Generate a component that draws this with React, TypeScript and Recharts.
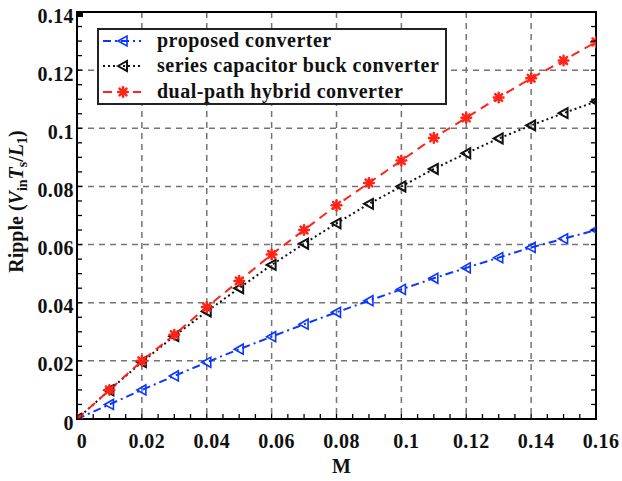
import React from 'react';
import {
  LineChart,
  Line,
  XAxis,
  YAxis,
  CartesianGrid,
  ReferenceArea,
  Legend,
} from 'recharts';

// Conversion ratio M (x axis)
const mValues = [0, 0.01, 0.02, 0.03, 0.04, 0.05, 0.06, 0.07, 0.08, 0.09, 0.1, 0.11, 0.12, 0.13, 0.14, 0.15, 0.16];

// Normalised inductor current ripple (Vin*Ts/L1)
const proposedRipple = [0, 0.005, 0.0100, 0.0148, 0.0195, 0.0240, 0.0283, 0.0326, 0.0367, 0.0407, 0.0446, 0.0484, 0.0520, 0.0555, 0.0590, 0.0620, 0.0650];
const seriesCapRipple = [0, 0.0099, 0.0196, 0.0285, 0.0370, 0.0450, 0.0530, 0.0603, 0.0673, 0.0740, 0.0800, 0.0860, 0.0914, 0.0965, 0.1010, 0.1052, 0.1092];
const dualPathRipple = [0, 0.0100, 0.0200, 0.0290, 0.0385, 0.0475, 0.0566, 0.0650, 0.0735, 0.0812, 0.0889, 0.0967, 0.1036, 0.1106, 0.1172, 0.1233, 0.1297];

const seriesKeys = ['proposed', 'seriesCap', 'dualPath'];
const seriesNames = ['proposed converter', 'series capacitor buck converter', 'dual-path hybrid converter'];

const xTickLabels = ['0', '0.02', '0.04', '0.06', '0.08', '0.1', '0.12', '0.14', '0.16'];
const yTickLabels = ['0', '0.02', '0.04', '0.06', '0.08', '0.1', '0.12', '0.14'];

const data = mValues.map((m, i) => ({
  m,
  proposed: proposedRipple[i],
  seriesCap: seriesCapRipple[i],
  dualPath: dualPathRipple[i],
}));

const xMajor = xTickLabels.map(Number);
const yMajor = yTickLabels.map(Number);

// four minor intervals between each pair of labelled ticks
const subdivide = (major: number[]) => {
  const out: number[] = [];
  for (let i = 0; i < major.length - 1; i++) {
    const a = major[i];
    const b = major[i + 1];
    for (let k = 0; k < 4; k++) out.push(+(a + ((b - a) * k) / 4).toFixed(5));
  }
  out.push(major[major.length - 1]);
  return out;
};
const xTicks = subdivide(xMajor);
const yTicks = subdivide(yMajor);

const FONT = '"Liberation Serif", "Times New Roman", Times, serif';
const BLUE = '#0a36ff';
const RED = '#ff2418';
const BLACK = '#111111';
const TICK_LEN = 5;

const labelFor = (v: number, majors: number[], labels: string[]) => {
  const i = majors.findIndex((m) => Math.abs(m - v) < 1e-9);
  return i >= 0 ? labels[i] : null;
};

const BottomTick = (props: any) => {
  const { x, y, payload } = props;
  const lab = labelFor(payload.value, xMajor, xTickLabels);
  return (
    <g>
      <line x1={x} y1={y} x2={x} y2={y - TICK_LEN} stroke="#000" strokeWidth={1.3} />
      {lab !== null && (
        <text x={x + 5} y={y + 29} textAnchor="middle" fontFamily={FONT} fontWeight="bold" fontSize={20} letterSpacing={0.4} fill="#111">
          {lab}
        </text>
      )}
    </g>
  );
};

const TopTick = (props: any) => {
  const { x, y } = props;
  return <line x1={x} y1={y} x2={x} y2={y + TICK_LEN} stroke="#000" strokeWidth={1.3} />;
};

const LeftTick = (props: any) => {
  const { x, y, payload } = props;
  const lab = labelFor(payload.value, yMajor, yTickLabels);
  return (
    <g>
      <line x1={x} y1={y} x2={x + TICK_LEN} y2={y} stroke="#000" strokeWidth={1.3} />
      {lab !== null && (
        <text x={x - 3} y={y + 10.5} textAnchor="end" fontFamily={FONT} fontWeight="bold" fontSize={20} letterSpacing={0.4} fill="#111">
          {lab}
        </text>
      )}
    </g>
  );
};

const RightTick = (props: any) => {
  const { x, y } = props;
  return <line x1={x} y1={y} x2={x - TICK_LEN} y2={y} stroke="#000" strokeWidth={1.3} />;
};

// open left-pointing triangle marker
const TriangleLeft = ({ cx, cy, color, w }: { cx: number; cy: number; color: string; w: number }) => (
  <polygon
    points={`${cx - 5},${cy} ${cx + 4},${cy - 5} ${cx + 4},${cy + 5}`}
    fill="none"
    stroke={color}
    strokeWidth={w}
  />
);

// asterisk marker
const Asterisk = ({ cx, cy, color }: { cx: number; cy: number; color: string }) => {
  const r = 4.8;
  const d = r * 0.72;
  return (
    <g stroke={color} strokeWidth={2.5} strokeLinecap="round">
      <line x1={cx - r} y1={cy} x2={cx + r} y2={cy} />
      <line x1={cx} y1={cy - r} x2={cx} y2={cy + r} />
      <line x1={cx - d} y1={cy - d} x2={cx + d} y2={cy + d} />
      <line x1={cx - d} y1={cy + d} x2={cx + d} y2={cy - d} />
      <circle cx={cx} cy={cy} r={2.4} fill={color} stroke="none" />
    </g>
  );
};

const seriesStyle: Record<string, { color: string; dash: string; marker: 'tri' | 'star'; mw: number }> = {
  proposed: { color: BLUE, dash: '8 4 2 4', marker: 'tri', mw: 1.6 },
  seriesCap: { color: BLACK, dash: '2 3', marker: 'tri', mw: 2 },
  dualPath: { color: RED, dash: '9 6', marker: 'star', mw: 2 },
};

const Marker = ({ dataKey, cx, cy }: { dataKey: string; cx: number; cy: number }) => {
  const st = seriesStyle[dataKey];
  return st.marker === 'tri' ? (
    <TriangleLeft cx={cx} cy={cy} color={st.color} w={st.mw} />
  ) : (
    <Asterisk cx={cx} cy={cy} color={st.color} />
  );
};

const makeDot = (key: string) => (props: any) => {
  const { cx, cy, index } = props;
  if (cx == null || cy == null) return <g key={`${key}-${index}`} />;
  return (
    <g key={`${key}-${index}`}>
      <Marker dataKey={key} cx={cx} cy={cy} />
    </g>
  );
};

const YLabel = (props: any) => {
  const vb = props.viewBox || { x: 0, y: 12, width: 77, height: 407 };
  const cx = vb.x + 23;
  const cy = vb.y + vb.height / 2 - 14;
  return (
    <text
      transform={`translate(${cx},${cy}) rotate(-90)`}
      textAnchor="middle"
      fontFamily={FONT}
      fontWeight="bold"
      fontSize={20}
      fill="#111"
    >
      <tspan>Ripple (</tspan>
      <tspan fontStyle="italic">V</tspan>
      <tspan fontSize={14} dy={4}>in</tspan>
      <tspan fontStyle="italic" dy={-4}>T</tspan>
      <tspan fontSize={14} dy={4}>s</tspan>
      <tspan dy={-4}>/</tspan>
      <tspan fontStyle="italic">L</tspan>
      <tspan fontSize={14} dy={4}>1</tspan>
      <tspan dy={-4}>)</tspan>
    </text>
  );
};

const XLabel = (props: any) => {
  const vb = props.viewBox || { x: 77, y: 419, width: 519, height: 62 };
  return (
    <text x={vb.x + vb.width / 2 + 5} y={vb.y + 54} textAnchor="middle" fontFamily={FONT} fontWeight="bold" fontSize={20} fill="#111">
      M
    </text>
  );
};

const LegendSample = ({ dataKey }: { dataKey: string }) => {
  const st = seriesStyle[dataKey];
  return (
    <svg width={42} height={20} style={{ position: 'absolute', left: 2, top: -10 }}>
      <line x1={2} y1={10} x2={40} y2={10} stroke={st.color} strokeWidth={2} strokeDasharray={st.dash} />
      <Marker dataKey={dataKey} cx={22} cy={10} />
    </svg>
  );
};

const LegendBox = (props: any) => {
  const payload = props.payload || [];
  const nameOf = (key: string, i: number) => {
    const hit = payload.find((p: any) => p.dataKey === key);
    return hit ? hit.value : seriesNames[i];
  };
  return (
    <div
      style={{
        position: 'relative',
        width: 350,
        height: 77,
        boxSizing: 'border-box',
        border: '2px solid #222',
        background: '#fff',
      }}
    >
      {seriesKeys.map((key, i) => (
        <div key={key} style={{ position: 'absolute', left: 0, top: 11 + i * 25.3, width: '100%' }}>
          <LegendSample dataKey={key} />
          <span
            style={{
              position: 'absolute',
              left: 58,
              top: -12,
              fontFamily: FONT,
              fontWeight: 'bold',
              fontSize: 20,
              letterSpacing: '0.5px',
              lineHeight: '23px',
              whiteSpace: 'nowrap',
              color: '#111',
            }}
          >
            {nameOf(key, i)}
          </span>
        </div>
      ))}
    </div>
  );
};

export default function App() {
  return (
    <div style={{ position: 'absolute', left: 0, top: 0, width: 622, height: 481, background: '#fff' }}>
      <LineChart width={622} height={481} data={data} margin={{ top: 12, right: 26, left: 0, bottom: 0 }}>
        <CartesianGrid
          horizontalValues={yMajor}
          verticalValues={xMajor}
          stroke="#747474"
          strokeWidth={1.5}
          strokeDasharray="6 5"
        />
        <XAxis
          dataKey="m"
          type="number"
          domain={[0, 0.16]}
          ticks={xTicks}
          interval={0}
          height={62}
          tickSize={0}
          tickMargin={0}
          tickLine={false}
          axisLine={false}
          tick={<BottomTick />}
          allowDataOverflow
          label={<XLabel />}
        />
        <XAxis
          xAxisId="top"
          orientation="top"
          mirror
          type="number"
          domain={[0, 0.16]}
          ticks={xTicks}
          interval={0}
          height={1}
          tickSize={0}
          tickMargin={0}
          tickLine={false}
          axisLine={false}
          tick={<TopTick />}
          allowDataOverflow
        />
        <YAxis
          type="number"
          domain={[0, 0.14]}
          ticks={yTicks}
          interval={0}
          width={77}
          tickSize={0}
          tickMargin={0}
          tickLine={false}
          axisLine={false}
          tick={<LeftTick />}
          allowDataOverflow
          label={<YLabel />}
        />
        <YAxis
          yAxisId="right"
          orientation="right"
          mirror
          type="number"
          domain={[0, 0.14]}
          ticks={yTicks}
          interval={0}
          width={1}
          tickSize={0}
          tickMargin={0}
          tickLine={false}
          axisLine={false}
          tick={<RightTick />}
          allowDataOverflow
        />
        <ReferenceArea x1={0} x2={0.16} y1={0} y2={0.14} fill="none" stroke="#000" strokeWidth={2} ifOverflow="visible" />
        <Line
          dataKey="proposed"
          name={seriesNames[0]}
          stroke={BLUE}
          strokeWidth={2}
          strokeDasharray={seriesStyle.proposed.dash}
          dot={makeDot('proposed')}
          isAnimationActive={false}
        />
        <Line
          dataKey="seriesCap"
          name={seriesNames[1]}
          stroke={BLACK}
          strokeWidth={2}
          strokeDasharray={seriesStyle.seriesCap.dash}
          dot={makeDot('seriesCap')}
          isAnimationActive={false}
        />
        <Line
          dataKey="dualPath"
          name={seriesNames[2]}
          stroke={RED}
          strokeWidth={2}
          strokeDasharray={seriesStyle.dualPath.dash}
          dot={makeDot('dualPath')}
          isAnimationActive={false}
        />
        <Legend
          layout="vertical"
          align="center"
          verticalAlign="middle"
          content={<LegendBox />}
          wrapperStyle={{ left: 97, top: 28, width: 350, height: 77 }}
        />
      </LineChart>
    </div>
  );
}
